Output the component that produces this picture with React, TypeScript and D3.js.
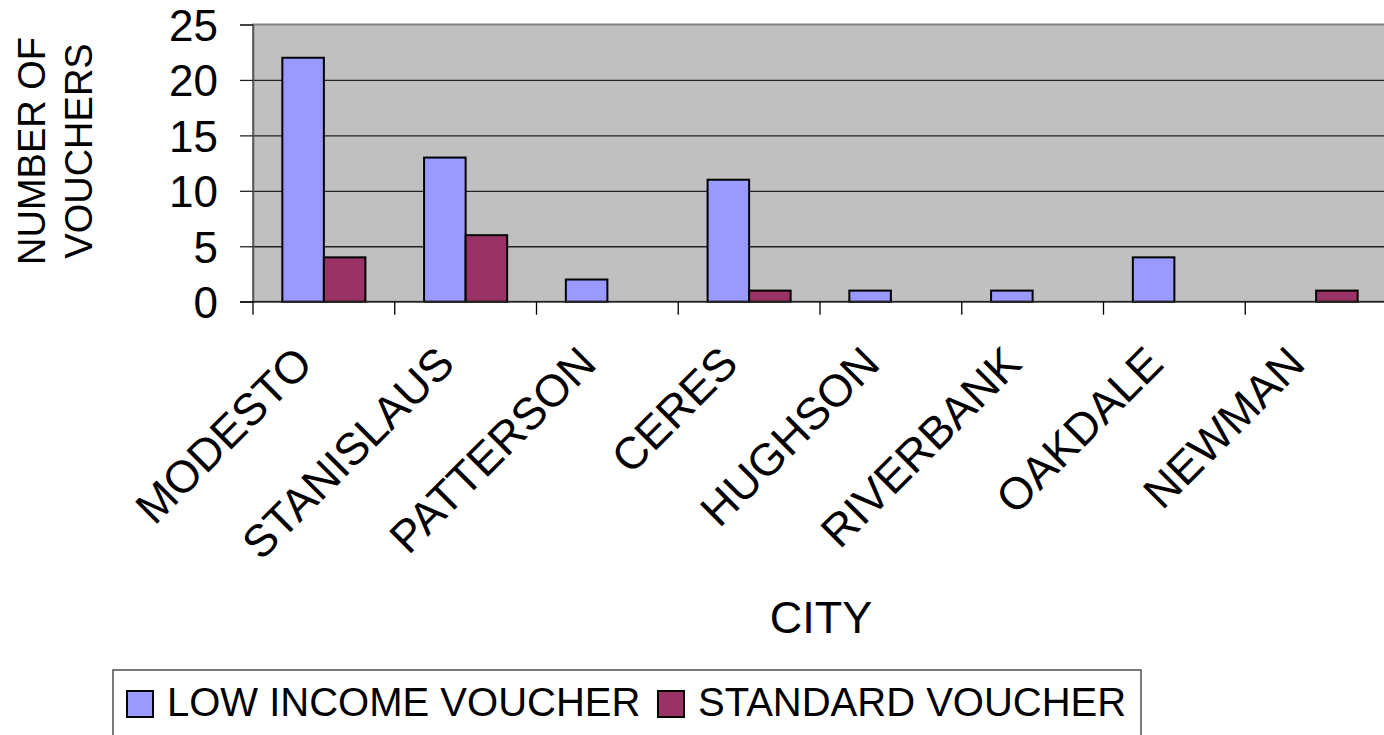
import * as d3 from "d3";
import { useEffect, useRef } from "react";

// chart data
const cities = [
  "MODESTO",
  "STANISLAUS",
  "PATTERSON",
  "CERES",
  "HUGHSON",
  "RIVERBANK",
  "OAKDALE",
  "NEWMAN",
];
const lowIncome = [22, 13, 2, 11, 1, 1, 4, 0];
const standard = [4, 6, 0, 1, 0, 0, 0, 1];
const seriesNames = ["LOW INCOME VOUCHER", "STANDARD VOUCHER"];
const seriesColors = ["#9999FF", "#993366"];
const yTicks = [0, 5, 10, 15, 20, 25];

const FONT = "'Liberation Sans', Arial, sans-serif";

function App() {
  const ref = useRef<SVGSVGElement | null>(null);
  const width = 1384;
  const height = 735;

  useEffect(() => {
    const svg = d3.select(ref.current);
    svg.selectAll("*").remove();

    const plot = { left: 253, top: 24.5, right: 1387, bottom: 301.7 };

    const x0 = d3
      .scaleBand()
      .domain(cities)
      .range([plot.left, plot.right])
      .paddingInner(0.414)
      .paddingOuter(0.207);
    const x1 = d3
      .scaleBand()
      .domain(seriesNames)
      .range([0, x0.bandwidth()]);
    const y = d3.scaleLinear().domain([0, 25]).range([plot.bottom, plot.top]);

    // plot background
    svg
      .append("rect")
      .attr("x", plot.left)
      .attr("y", plot.top)
      .attr("width", plot.right - plot.left)
      .attr("height", plot.bottom - plot.top)
      .attr("fill", "#C0C0C0")
      .attr("stroke", "#808080")
      .attr("stroke-width", 2);

    // gridlines
    svg
      .append("g")
      .attr("transform", `translate(${plot.left},0)`)
      .call(
        d3
          .axisLeft(y)
          .tickValues(yTicks.filter((t) => t > 0 && t < 25))
          .tickSize(-(plot.right - plot.left))
          .tickFormat(() => "")
      )
      .call((g) => g.select(".domain").remove())
      .selectAll("line")
      .attr("stroke", "#222")
      .attr("stroke-width", 1.3);

    // y axis
    const yAxis = svg
      .append("g")
      .attr("transform", `translate(${plot.left},0)`)
      .call(d3.axisLeft(y).tickValues(yTicks).tickSize(13).tickPadding(22));
    yAxis.select(".domain").attr("stroke", "#555").attr("stroke-width", 1.5);
    yAxis.selectAll("line").attr("stroke", "#222").attr("stroke-width", 1.3);
    yAxis
      .selectAll("text")
      .attr("font-family", FONT)
      .attr("font-size", 44)
      .attr("fill", "#000")
      .attr("dy", "0.36em");

    // bars
    const rows = cities.map((c, i) => ({
      city: c,
      values: [lowIncome[i], standard[i]],
    }));
    const group = svg
      .append("g")
      .selectAll("g")
      .data(rows)
      .join("g")
      .attr("transform", (d) => `translate(${x0(d.city)},0)`);
    group
      .selectAll("rect")
      .data((d) =>
        d.values
          .map((v, k) => ({ v, k }))
          .filter((e) => e.v > 0)
      )
      .join("rect")
      .attr("x", (d) => x1(seriesNames[d.k]) as number)
      .attr("y", (d) => y(d.v))
      .attr("width", x1.bandwidth())
      .attr("height", (d) => y(0) - y(d.v))
      .attr("fill", (d) => seriesColors[d.k])
      .attr("stroke", "#000")
      .attr("stroke-width", 2);

    // x axis line and category boundary ticks
    svg
      .append("line")
      .attr("x1", plot.left - 13)
      .attr("x2", plot.right)
      .attr("y1", plot.bottom)
      .attr("y2", plot.bottom)
      .attr("stroke", "#222")
      .attr("stroke-width", 1.5);
    const step = x0.step();
    const bounds = cities.map((c) => (x0(c) as number) - step * 0.207);
    bounds.push(plot.right);
    svg
      .append("g")
      .selectAll("line")
      .data(bounds)
      .join("line")
      .attr("x1", (d) => d)
      .attr("x2", (d) => d)
      .attr("y1", plot.bottom)
      .attr("y2", plot.bottom + 13)
      .attr("stroke", "#000")
      .attr("stroke-width", 1.3);

    // rotated category labels
    svg
      .append("g")
      .selectAll("text")
      .data(cities)
      .join("text")
      .attr("font-family", FONT)
      .attr("font-size", 45)
      .attr("text-anchor", "end")
      .attr("transform", (c) => {
        const cx = (x0(c) as number) + x0.bandwidth() / 2 - 9;
        return `translate(${cx},366) rotate(-45)`;
      })
      .text((c) => c);

    // axis titles
    const yTitle = svg
      .append("text")
      .attr("font-family", FONT)
      .attr("font-size", 38)
      .attr("text-anchor", "middle")
      .attr("transform", "translate(45,151) rotate(-90)");
    yTitle.append("tspan").attr("x", 0).attr("y", 0).text("NUMBER OF");
    yTitle.append("tspan").attr("x", 0).attr("y", 47).text("VOUCHERS");

    svg
      .append("text")
      .attr("x", 821)
      .attr("y", 633)
      .attr("font-family", FONT)
      .attr("font-size", 45)
      .attr("text-anchor", "middle")
      .text("CITY");

    // legend
    const legend = svg.append("g");
    legend
      .append("rect")
      .attr("x", 113)
      .attr("y", 670)
      .attr("width", 1028)
      .attr("height", 90)
      .attr("fill", "#fff")
      .attr("stroke", "#333")
      .attr("stroke-width", 1.3);
    const legendX = [127, 658];
    seriesNames.forEach((name, k) => {
      legend
        .append("rect")
        .attr("x", legendX[k])
        .attr("y", 691)
        .attr("width", 26)
        .attr("height", 26)
        .attr("fill", seriesColors[k])
        .attr("stroke", "#000")
        .attr("stroke-width", 2);
      legend
        .append("text")
        .attr("x", legendX[k] + 40)
        .attr("y", 716)
        .attr("font-family", FONT)
        .attr("font-size", 40)
        .text(name);
    });
  }, []);

  return (
    <svg
      ref={ref}
      width={width}
      height={height}
      style={{ position: "absolute", left: 0, top: 0, background: "#fff" }}
    />
  );
}

export default App;
